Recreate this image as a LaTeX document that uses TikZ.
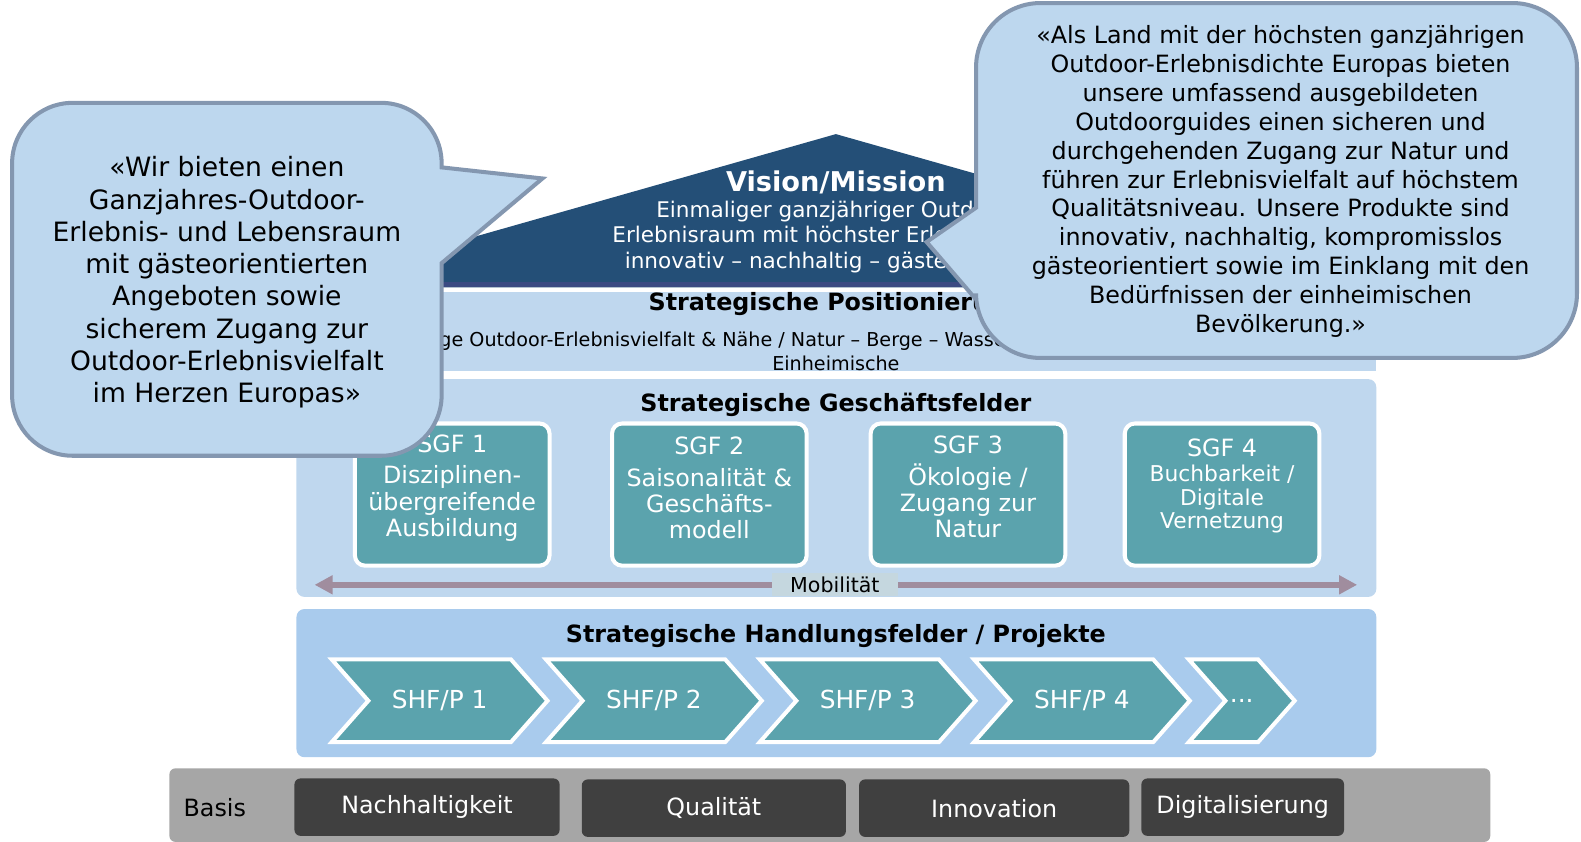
\documentclass[tikz,border=0pt]{standalone}
\usepackage{fontspec}
\setmainfont{DejaVu Sans}
\usepackage{tikz}
\usetikzlibrary{shapes.symbols,arrows.meta}

\definecolor{roofblue}{HTML}{244F77}
\definecolor{roofline}{HTML}{3B4A82}
\definecolor{panelblue}{HTML}{BFD7EE}
\definecolor{shfblue}{HTML}{A9CBED}
\definecolor{sgfteal}{HTML}{5BA3AD}
\definecolor{bubblefill}{HTML}{BDD7EE}
\definecolor{bubbleline}{HTML}{8497B0}
\definecolor{basegray}{HTML}{A6A6A6}
\definecolor{darkbox}{HTML}{404040}
\definecolor{mobline}{HTML}{A08D9E}
\definecolor{moblabel}{HTML}{C5D7DF}

\begin{document}
\begin{tikzpicture}[
    x=0.5pt, y=-0.5pt,
    panel/.style={fill=panelblue, rounded corners=4pt},
    headline/.style={font=\bfseries\fontsize{11.8}{13}\selectfont},
    sgfbox/.style={draw=white, line width=2pt, fill=sgfteal, rounded corners=5pt,
        minimum width=96.5pt, minimum height=70.5pt},
    sgftext/.style={text=white, align=center, font=\fontsize{11.8}{13}\selectfont},
    chevron/.style={shape=signal, signal from=west, signal to=east, signal pointer angle=97,
        draw=white, line width=2pt, fill=sgfteal, text=white, minimum height=41pt,
        inner sep=0pt, font=\fontsize{12.3}{13}\selectfont},
    basebox/.style={fill=darkbox, rounded corners=3pt, minimum height=28.5pt,
        text=white, font=\fontsize{11.8}{13}\selectfont},
    bubble/.style={fill=bubblefill, draw=bubbleline, line width=2pt}
]
\useasboundingbox (0,0) rectangle (1568,835);

% basis
\fill[basegray, rounded corners=3pt] (168,762) rectangle (1478,835);
\node (basis) at (213,801) {\fontsize{11.8}{13}\selectfont Basis};
\node[basebox, minimum width=131.5pt] (nachhaltigkeit) at (423.5,800.5) {Nachhaltigkeit};
\node[basebox, minimum width=131pt] (qualitaet) at (708,801.5) {Qualität};
\node[basebox, minimum width=134pt] (innovation) at (986,801.5) {Innovation};
\node[basebox, minimum width=100.5pt] (digital) at (1232.5,800.5) {Digitalisierung};

% handlungsfelder
\fill[shfblue, rounded corners=4pt] (294,604) rectangle (1365,751);
\node[headline] (shftitle) at (829,631) {Strategische Handlungsfelder / Projekte};
\foreach \i/\cx in {1/436, 2/648.5, 3/860.5, 4/1073}
    \node[chevron, minimum width=107pt] (shf\i) at (\cx,695) {SHF/P \i};
\node[chevron, minimum width=52.5pt] (shf5) at (1231.5,695) {...};

% geschaeftsfelder
\fill[panel] (294,376) rectangle (1365,592);
\node[headline] (sgftitle) at (829,402) {Strategische Geschäftsfelder};
\node[sgfbox] (sgf1) at (448.5,490.5) {};
\node[sgfbox] (sgf2) at (703.5,490.5) {};
\node[sgfbox] (sgf3) at (960,490.5) {};
\node[sgfbox] (sgf4) at (1212,490.5) {};
\node[sgftext] at (448.5,484) {SGF 1\\[2.5pt]Disziplinen-\\übergreifende\\Ausbildung};
\node[sgftext] at (703.5,484) {SGF 2\\[2.5pt]Saisonalität \&\\Geschäfts-\\modell};
\node[sgftext] at (960,483) {SGF 3\\[2.5pt]Ökologie /\\Zugang zur\\Natur};
\node[sgftext, anchor=north] (sgf4head) at (1212,428) {SGF 4};
\node[sgftext, font=\fontsize{10.8}{11.75}\selectfont] (sgf4text) at (1212,495) {Buchbarkeit /\\Digitale\\Vernetzung};

\coordinate (mobL) at (312,580);
\coordinate (mobR) at (1346,580);
\draw[mobline, line width=3pt, {Triangle[length=9pt,width=9pt]}-{Triangle[length=9pt,width=9pt]}] (mobL) -- (mobR);
\node[fill=moblabel, minimum width=62.5pt, minimum height=11.5pt, inner sep=0pt,
    font=\fontsize{10.2}{11}\selectfont] (mobilitaet) at (828,580) {Mobilität};

% positionierung
\fill[panelblue] (294,290) rectangle (1365,368);
\node[headline] (postitle) at (829,302) {Strategische Positionierung};
\node[anchor=west, inner sep=0pt, font=\fontsize{9.5}{11}\selectfont] (postext) at (345,338)
    {Ganzjährige Outdoor-Erlebnisvielfalt \& Nähe / Natur – Berge – Wasser / Gäste \&};
\node[inner sep=0pt, font=\fontsize{9.5}{11}\selectfont] (poseinh) at (829,360) {Einheimische};

% vision / mission
\fill[roofblue] (294,285) -- (829,133) -- (1365,285) -- cycle;
\fill[roofline] (294,280) rectangle (1365,285);
\node[text=white, font=\bfseries\fontsize{13.5}{15}\selectfont] (vision) at (829,181) {Vision/Mission};
\node[text=white, align=center, font=\fontsize{10.7}{12.5}\selectfont] (mission) at (829,235)
    {Einmaliger ganzjähriger Outdoor-\\Erlebnisraum mit höchster Erlebnisdichte\\innovativ – nachhaltig – gästeorientiert};

% sprechblasen
\draw[bubble] (225,102) [rounded corners=30pt] -- (438,102) [sharp corners] -- (438,166) -- (538,177)
    -- (438,261) [rounded corners=30pt] -- (438,452) -- (12,452) -- (12,102) -- cycle;
\node[align=center, font=\fontsize{13.2}{16}\selectfont] (zitatlinks) at (225,280)
    {«Wir bieten einen\\Ganzjahres-Outdoor-\\Erlebnis- und Lebensraum\\mit gästeorientierten\\Angeboten sowie\\sicherem Zugang zur\\Outdoor-Erlebnisvielfalt\\im Herzen Europas»};

\draw[bubble] (1265,3) [rounded corners=32pt] -- (1564,3) -- (1564,355) -- (968,355) [sharp corners] -- (968,297)
    -- (919,240) -- (968,206) [rounded corners=32pt] -- (968,3) -- cycle;
\node[align=center, font=\fontsize{11.8}{14.3}\selectfont] (zitatrechts) at (1270,180)
    {«Als Land mit der höchsten ganzjährigen\\Outdoor-Erlebnisdichte Europas bieten\\unsere umfassend ausgebildeten\\Outdoorguides einen sicheren und\\durchgehenden Zugang zur Natur und\\führen zur Erlebnisvielfalt auf höchstem\\Qualitätsniveau. Unsere Produkte sind\\innovativ, nachhaltig, kompromisslos\\gästeorientiert sowie im Einklang mit den\\Bedürfnissen der einheimischen\\Bevölkerung.»};
\end{tikzpicture}
\end{document}
